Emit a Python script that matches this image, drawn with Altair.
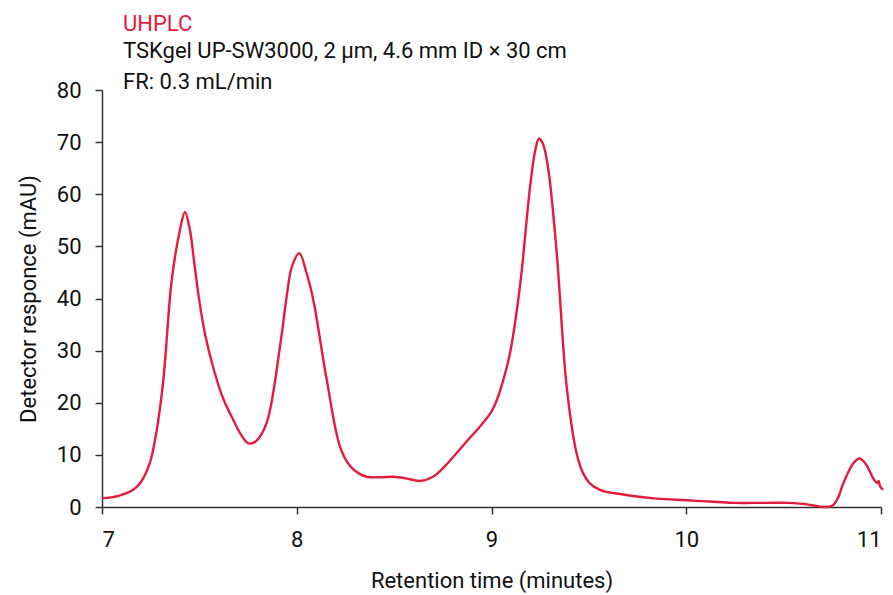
import altair as alt
import pandas as pd

# Chromatogram trace (retention time in minutes, detector response in mAU)
times = [7.00, 7.08, 7.16, 7.20, 7.246, 7.28, 7.315, 7.358, 7.40, 7.426, 7.45, 7.475,
         7.50, 7.53, 7.57, 7.62, 7.674, 7.72, 7.752, 7.79, 7.845, 7.914, 7.948, 7.975,
         8.013, 8.051, 8.085, 8.154, 8.222, 8.273, 8.32, 8.359, 8.43, 8.495, 8.56, 8.633,
         8.70, 8.76, 8.82, 8.88, 8.94, 9.00, 9.027, 9.06, 9.095, 9.146, 9.198, 9.225,
         9.244, 9.265, 9.292, 9.335, 9.386, 9.437, 9.47, 9.506, 9.557, 9.59, 9.66, 9.727,
         9.85, 10.0, 10.12, 10.24, 10.40, 10.53, 10.60, 10.635, 10.68, 10.72, 10.755,
         10.78, 10.806, 10.858, 10.891, 10.926, 10.96, 10.98, 10.988, 10.995, 11.01]
response = [1.7, 2.1, 3.3, 4.8, 8.5, 14.5, 24.4, 43.5, 53.1, 56.6, 53.5, 46.5,
            39.5, 33.0, 26.9, 21.0, 16.7, 13.5, 12.2, 12.6, 16.1, 30.8, 40.3, 46.1,
            48.7, 44.8, 39.7, 24.4, 11.6, 7.9, 6.4, 5.8, 5.7, 5.8, 5.5, 5.0,
            5.8, 7.8, 10.3, 12.9, 15.4, 18.3, 20.5, 24.3, 29.5, 42.3, 61.4, 68.5,
            70.7, 69.6, 64.7, 48.7, 23.1, 10.3, 6.5, 4.5, 3.3, 2.9, 2.5, 2.1,
            1.6, 1.3, 1.05, 0.8, 0.8, 0.8, 0.6, 0.4, 0.1, 0.0, 0.4,
            1.8, 4.5, 8.4, 9.3, 8.0, 5.5, 4.6, 5.0, 4.0, 3.3]

x_ticks = [7, 8, 9, 10, 11]
y_ticks = [0, 10, 20, 30, 40, 50, 60, 70, 80]

RED = "#e31c3d"
INK = "#111111"
FONT = "Roboto"

df = pd.DataFrame({"time": times, "response": response})

axis_style = dict(
    grid=False,
    domainColor="#333333",
    domainWidth=1.5,
    tickColor="#333333",
    tickWidth=1.5,
    tickSize=7,
    labelFontSize=22,
    labelColor=INK,
    titleFontSize=22,
    titleFontWeight="normal",
    titleColor=INK,
)

trace = alt.Chart(df).mark_line(
    color=RED, strokeWidth=2.4, interpolate="catmull-rom"
).encode(
    x=alt.X(
        "time:Q",
        scale=alt.Scale(domain=[7, 11], nice=False, zero=False),
        axis=alt.Axis(
            title="Retention time (minutes)",
            values=x_ticks,
            format="d",
            labelPadding=15,
            titlePadding=20,
            **axis_style,
        ),
    ),
    y=alt.Y(
        "response:Q",
        scale=alt.Scale(domain=[0, 80], nice=False),
        axis=alt.Axis(
            title="Detector responce (mAU)",
            values=y_ticks,
            labelPadding=14,
            titlePadding=16,
            **axis_style,
        ),
    ),
)

chart = trace.properties(
    width=779,
    height=417,
    title=alt.TitleParams(
        text="UHPLC",
        subtitle=["TSKgel UP-SW3000, 2 µm, 4.6 mm ID × 30 cm", "FR: 0.3 mL/min"],
        anchor="start",
        frame="group",
        dx=21,
        offset=-15,
        color=RED,
        fontSize=22,
        fontWeight="normal",
        font=FONT,
        subtitleColor=INK,
        subtitleFontSize=22,
        subtitleFont=FONT,
        subtitlePadding=5,
        subtitleLineHeight=31,
    ),
    autosize=alt.AutoSizeParams(type="none"),
    padding={"left": 102, "top": 90, "right": 12, "bottom": 88},
).configure_view(
    stroke=None
).configure_axis(
    labelFont=FONT,
    titleFont=FONT,
)

chart.save("out.html", embed_options={"renderer": "svg", "actions": False})
